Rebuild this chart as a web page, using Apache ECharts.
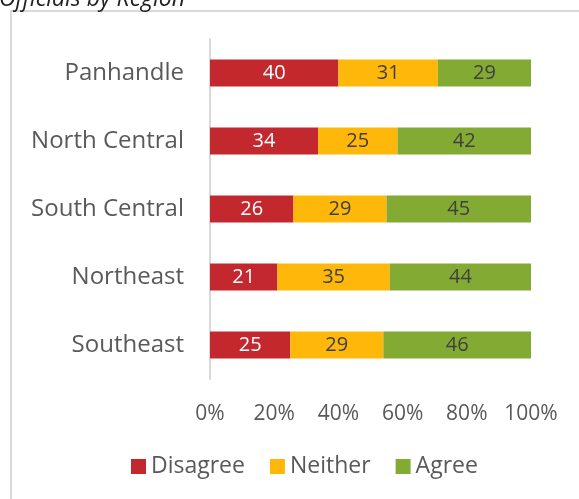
<!DOCTYPE html>
<html><head><meta charset="utf-8">
<script src="https://cdn.jsdelivr.net/npm/echarts@6/dist/echarts.min.js"></script>
<style>html,body{margin:0;padding:0;background:#fff}#c{width:579px;height:499px}</style>
</head><body><div id="c"></div>
<script>
const categories = ["Panhandle", "North Central", "South Central", "Northeast", "Southeast"];
const disagree = [40, 34, 26, 21, 25];
const neither = [31, 25, 29, 35, 29];
const agree = [29, 42, 45, 44, 46];
const tickLabels = ["0%", "20%", "40%", "60%", "80%", "100%"];
const titleText = "Officials by Region";

const totals = categories.map((_, i) => disagree[i] + neither[i] + agree[i]);
const norm = arr => arr.map((v, i) => ({ value: v / totals[i] * 100, raw: v }));
const FONT = "'Open Sans', sans-serif";

function mk(name, arr, color, labelColor) {
  return {
    name, type: 'bar', stack: 'all', barWidth: 27,
    data: norm(arr),
    itemStyle: { color },
    label: { show: true, position: 'inside', color: labelColor, fontSize: 20, fontFamily: FONT,
      formatter: p => String(p.data.raw) },
    emphasis: { disabled: true }
  };
}

const chart = echarts.init(document.getElementById('c'), null, { renderer: 'canvas' });
chart.setOption({
  animation: false,
  graphic: [
    { type: 'rect', shape: { x: 11, y: 11, width: 580, height: 520 }, style: { fill: null, stroke: '#d9d9d9', lineWidth: 2 }, silent: true },
    { type: 'text', style: { x: -1, y: 11, text: titleText, font: 'italic 23px ' + FONT, fill: '#222', textVerticalAlign: 'bottom' } }
  ],
  grid: { left: 210, right: 48, top: 39, bottom: 120, containLabel: false },
  legend: {
    bottom: 16, left: 126, itemWidth: 15, itemHeight: 15, itemGap: 25, itemTextGap: 8,
    icon: 'rect', textStyle: { fontSize: 23, color: '#595959', fontFamily: FONT },
    data: ['Disagree', 'Neither', 'Agree']
  },
  xAxis: {
    type: 'value', min: 0, max: 100, interval: 20,
    axisLine: { show: false }, axisTick: { show: false }, splitLine: { show: false },
    axisLabel: { margin: 25, fontSize: 21, color: '#595959', fontFamily: FONT,
      formatter: v => tickLabels[Math.round(v / 20)] }
  },
  yAxis: {
    type: 'category', inverse: true, data: categories,
    axisLine: { show: true, lineStyle: { color: '#d9d9d9', width: 2 } },
    axisTick: { show: false },
    axisLabel: { margin: 26, fontSize: 24, color: '#595959', fontFamily: FONT }
  },
  series: [
    mk('Disagree', disagree, '#C3282E', '#ffffff'),
    mk('Neither', neither, '#FFB70A', '#404040'),
    mk('Agree', agree, '#83AA33', '#404040')
  ]
});
</script></body></html>
